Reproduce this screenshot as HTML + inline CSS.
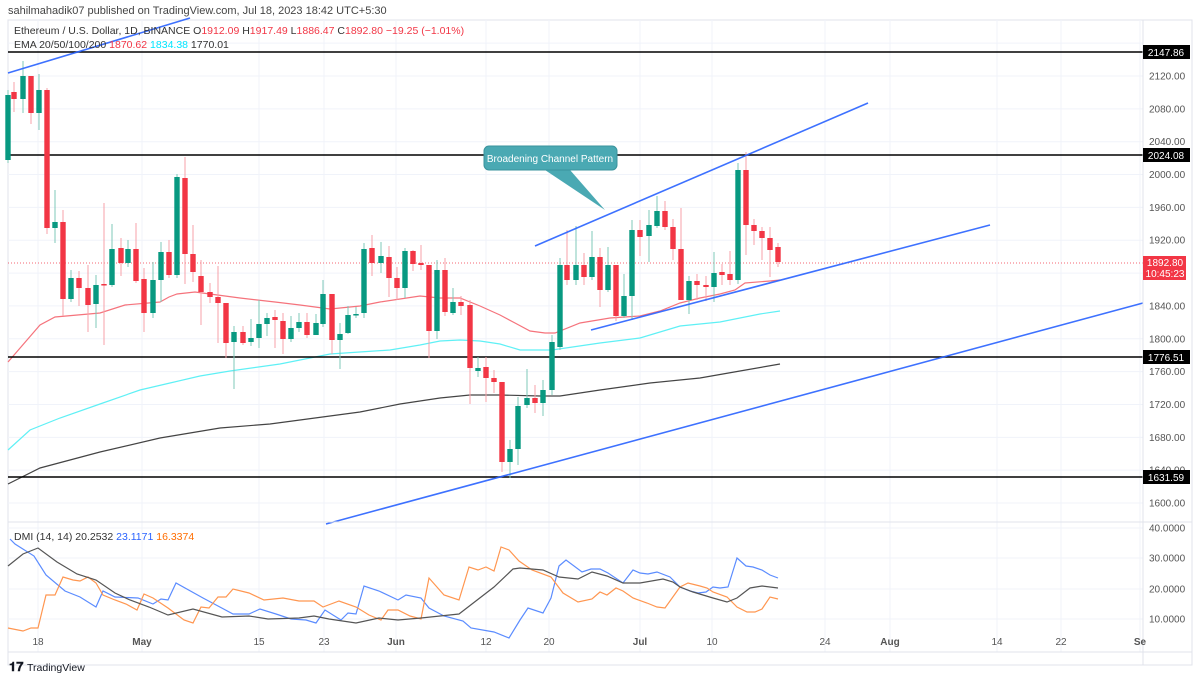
<!DOCTYPE html>
<html><head><meta charset="utf-8"><style>
body{margin:0;background:#fff;width:1200px;height:681px;overflow:hidden;font-family:"Liberation Sans",sans-serif}
svg{position:absolute;left:0;top:0}
</style></head><body>
<svg id="s" width="1200" height="681" xmlns="http://www.w3.org/2000/svg" font-family="Liberation Sans, sans-serif">
<rect x="8" y="20" width="1184" height="645" fill="#fff" stroke="#e0e3eb"/>
<g id="grid" stroke="#f0f3fa" stroke-width="1"></g>
<g id="ema" fill="none" stroke-width="1.2"></g>
<g id="hl" stroke="#000" stroke-width="1.6">
<line x1="8" y1="52" x2="1143" y2="52"/><line x1="8" y1="155" x2="1143" y2="155"/>
<line x1="8" y1="357" x2="1143" y2="357"/><line x1="8" y1="477" x2="1143" y2="477"/>
</g>
<line x1="8" y1="263" x2="1143" y2="263" stroke="#f23645" stroke-dasharray="1,2" stroke-width="0.8"/>
<g id="cd"></g>
<g stroke="#2962ff" stroke-width="1.6" opacity="0.9">
<line x1="8" y1="73" x2="190" y2="18"/>
<line x1="535" y1="246" x2="868" y2="103"/>
<line x1="591" y1="330" x2="990" y2="225"/>
<line x1="326" y1="524" x2="1143" y2="303"/>
</g>
<path d="M545,170 L605,210 L570,170 Z" fill="#4aa9b3"/>
<rect x="484" y="146" width="133" height="24" rx="5" fill="#4aa9b3" stroke="#3a939c"/>
<text x="550" y="162" font-size="10" fill="#fff" text-anchor="middle">Broadening Channel Pattern</text>
<line x1="8" y1="522" x2="1192" y2="522" stroke="#e0e3eb"/>
<line x1="1143" y1="20" x2="1143" y2="665" stroke="#e0e3eb"/>
<line x1="8" y1="652" x2="1192" y2="652" stroke="#e0e3eb"/>
<g id="dmi" fill="none" stroke-width="1.2"></g>
<g id="ax" font-size="10" fill="#555"></g>
<rect x="1143" y="45" width="47" height="14" fill="#000"/><text x="1166" y="56" font-size="10" fill="#fff" text-anchor="middle">2147.86</text>
<rect x="1143" y="148" width="47" height="14" fill="#000"/><text x="1166" y="159" font-size="10" fill="#fff" text-anchor="middle">2024.08</text>
<rect x="1143" y="350" width="47" height="14" fill="#000"/><text x="1166" y="361" font-size="10" fill="#fff" text-anchor="middle">1776.51</text>
<rect x="1143" y="470" width="47" height="14" fill="#000"/><text x="1166" y="481" font-size="10" fill="#fff" text-anchor="middle">1631.59</text>
<rect x="1143" y="256" width="43" height="24" fill="#f23645"/><text x="1165" y="266" font-size="10" fill="#fff" text-anchor="middle">1892.80</text><text x="1165" y="277" font-size="10" fill="#fff" text-anchor="middle">10:45:23</text>
<text x="8" y="14" font-size="11" fill="#444">sahilmahadik07 published on TradingView.com, Jul 18, 2023 18:42 UTC+5:30</text>
<text x="14" y="34" font-size="10.5" fill="#333">Ethereum / U.S. Dollar, 1D, BINANCE <tspan fill="#333">O</tspan><tspan fill="#f23645">1912.09</tspan> H<tspan fill="#f23645">1917.49</tspan> L<tspan fill="#f23645">1886.47</tspan> C<tspan fill="#f23645">1892.80 −19.25 (−1.01%)</tspan></text>
<text x="14" y="48" font-size="10.5" fill="#333">EMA 20/50/100/200 <tspan fill="#f23645">1870.62</tspan> <tspan fill="#00e5ff">1834.38</tspan> 1770.01</text>
<text x="14" y="540" font-size="10.5" fill="#333">DMI (14, 14) 20.2532 <tspan fill="#2962ff">23.1171</tspan> <tspan fill="#ff6d00">16.3374</tspan></text>
<text x="9" y="671" font-size="13" font-weight="bold" fill="#131722">𝟏𝟕</text>
<text x="27" y="671" font-size="10.5" fill="#131722">TradingView</text>
</svg>
<script>
var NS="http://www.w3.org/2000/svg";
function el(p,t,a,txt){var e=document.createElementNS(NS,t);for(var k in a)e.setAttribute(k,a[k]);if(txt!=null)e.textContent=txt;document.getElementById(p).appendChild(e);return e;}
// grid
[38,142,259,324,396,486,549,640,712,825,890,997,1061,1140].forEach(function(x){el('grid','line',{x1:x,y1:20,x2:x,y2:652});});
for(var p=1600;p<=2160;p+=40){var y=76+(2120-p)*0.8212;el('grid','line',{x1:8,y1:y,x2:1143,y2:y});
 if(p!=1880&&p!=2160)el('ax','text',{x:1149,y:y+3.5},p.toFixed(2));}
[[40,528],[30,558],[20,589],[10,619]].forEach(function(a){el('grid','line',{x1:8,y1:a[1],x2:1143,y2:a[1]});el('ax','text',{x:1149,y:a[1]+3.5},a[0].toFixed(4));});
[['18',38],['May',142],['15',259],['23',324],['Jun',396],['12',486],['20',549],['Jul',640],['10',712],['24',825],['Aug',890],['14',997],['22',1061],['Se',1140]].forEach(function(a){el('ax','text',{x:a[1],y:645,'text-anchor':'middle','font-weight':(isNaN(a[0])?'bold':'normal')},a[0]);});
// candles x,o,c,h,l
var C=[[8,160,95,90,163],[14,92,99,82,112],[23,99,76,61,113],[31,76,113,76,124],[39,113,90,74,130],[47,90,228,88,234],[55,228,222,190,243],[63,222,299,210,316],[71,299,278,270,302],[79,278,288,271,306],[88,288,305,265,332],[96,304,285,275,328],[104,284,285,203,345],[112,285,249,224,287],[121,248,263,238,276],[128,263,249,240,267],[136,249,281,223,283],[144,279,313,268,332],[153,313,280,262,318],[161,280,252,242,302],[169,252,275,240,278],[177,275,177,174,278],[185,178,254,157,284],[193,254,272,225,282],[201,276,292,260,325],[210,292,297,283,303],[218,297,303,266,343],[226,303,343,303,358],[234,342,332,326,389],[243,332,343,326,345],[251,342,338,319,346],[259,338,324,300,348],[267,324,318,313,336],[275,317,320,310,348],[283,321,339,313,354],[291,339,328,316,342],[299,328,322,313,332],[307,322,335,313,338],[316,335,323,314,335],[323,324,294,280,327],[332,294,340,294,354],[340,340,334,323,369],[348,333,315,306,334],[356,315,314,307,318],[364,313,249,243,318],[372,248,263,235,276],[381,263,256,242,273],[389,257,278,246,297],[397,278,288,267,300],[405,288,251,248,298],[413,251,264,250,271],[421,263,265,245,270],[429,265,331,265,358],[437,331,270,260,339],[445,270,312,258,316],[453,313,302,288,315],[461,302,306,296,315],[470,305,368,300,404],[478,371,368,357,377],[486,367,378,357,402],[494,378,382,370,393],[502,382,462,382,472],[510,462,449,440,478],[518,449,406,397,465],[527,405,398,369,408],[535,398,403,385,413],[543,403,390,380,416],[552,390,342,335,395],[560,347,265,258,350],[567,265,280,230,285],[576,280,265,226,285],[584,265,277,253,285],[592,277,257,231,280],[600,257,290,248,307],[608,290,265,247,292],[616,265,316,265,321],[624,316,296,274,318],[632,296,230,220,320],[640,230,237,220,256],[649,236,225,210,262],[657,226,211,196,228],[665,211,227,201,230],[673,227,249,219,260],[681,249,300,208,300],[689,300,281,276,314],[697,281,285,274,300],[706,285,287,276,301],[714,287,273,252,302],[722,272,275,264,285],[730,274,280,251,285],[738,280,170,163,284],[746,170,225,152,255],[754,225,231,219,245],[762,231,238,227,260],[770,238,250,227,277],[778,247,262,243,267]];
C.forEach(function(c){var up=c[2]<c[1];var col=up?'#089981':'#f23645';var wc=up?'#7fc8b9':'#f7a1a8';
 el('cd','line',{x1:c[0],y1:c[3],x2:c[0],y2:c[4],stroke:wc,'stroke-width':1});
 var t=Math.min(c[1],c[2]),h=Math.max(1.5,Math.abs(c[1]-c[2]));el('cd','rect',{x:c[0]-2.7,y:t,width:5.4,height:h,fill:col});});
function pl(g,col,pts,w){el(g,'polyline',{points:pts.map(function(p){return p.join(',')}).join(' '),stroke:col,'stroke-width':w||1.2,fill:'none'});}
pl('ema','#f5737c',[[8,362],[40,325],[55,317],[100,313],[125,305],[160,302],[169,297],[177,294],[195,292],[210,294],[240,298],[275,302],[300,305],[330,309],[360,306],[380,302],[420,296],[440,298],[460,298],[480,306],[500,315],[515,323],[530,331],[545,333],[555,333],[580,323],[610,318],[640,316],[660,311],[680,303],[700,298],[720,294],[735,290],[745,283],[770,281],[780,280]]);
pl('ema','#5ff0f5',[[8,450],[30,430],[60,418],[100,404],[140,390],[170,383],[200,376],[230,371],[280,364],[330,354],[390,350],[420,345],[440,341],[460,340],[480,341],[500,344],[520,350],[552,350],[600,343],[640,338],[680,326],[720,322],[760,314],[780,311]]);
pl('ema','#444',[[8,484],[40,468],[100,452],[160,438],[220,428],[270,424],[330,416],[360,412],[400,404],[440,398],[470,395],[500,395],[540,396],[560,396],[600,390],[650,383],[700,378],[740,371],[780,364]]);
pl('dmi','#5b8cff',[[10,539],[15,544],[34,556],[46,575],[65,591],[80,597],[96,607],[103,591],[115,597],[138,598],[153,604],[161,599],[168,600],[176,583],[203,598],[218,606],[233,614],[249,614],[260,609],[276,614],[291,619],[306,620],[316,623],[325,610],[341,620],[348,613],[356,614],[364,586],[379,591],[398,600],[406,595],[421,598],[429,608],[444,616],[463,621],[471,628],[494,632],[509,638],[520,620],[528,608],[543,613],[551,598],[559,566],[566,560],[582,572],[591,569],[600,569],[608,573],[623,583],[633,570],[640,573],[648,574],[657,572],[670,577],[680,587],[690,591],[698,593],[706,592],[713,587],[720,588],[728,587],[737,558],[746,566],[753,567],[762,570],[770,575],[778,578]]);
pl('dmi','#ff9650',[[8,628],[23,631],[31,628],[38,628],[46,595],[55,595],[63,577],[73,580],[80,581],[88,577],[96,583],[103,595],[115,600],[126,604],[137,610],[144,594],[153,598],[168,608],[184,620],[193,623],[201,607],[209,608],[218,597],[226,597],[233,589],[249,593],[264,600],[283,598],[299,601],[314,601],[323,607],[339,601],[356,607],[369,615],[381,620],[388,610],[398,610],[410,616],[421,619],[429,578],[444,595],[459,600],[469,567],[478,570],[486,567],[494,571],[501,547],[509,550],[519,561],[532,570],[551,577],[563,593],[578,602],[592,599],[600,592],[607,595],[616,588],[623,591],[633,598],[647,603],[657,607],[665,608],[680,587],[688,583],[700,586],[707,588],[713,592],[727,597],[737,607],[747,612],[755,612],[762,609],[770,597],[778,599]]);
pl('dmi','#555',[[8,566],[23,554],[38,548],[57,562],[77,574],[96,580],[115,593],[130,600],[149,607],[168,615],[193,609],[222,617],[249,616],[268,619],[299,618],[314,616],[329,619],[356,623],[379,618],[398,620],[421,618],[459,614],[494,587],[513,569],[520,568],[543,570],[559,577],[578,579],[592,572],[607,576],[623,583],[640,583],[663,579],[673,582],[680,587],[693,592],[713,598],[727,602],[737,598],[750,588],[762,586],[778,588]]);
</script>
</body></html>
